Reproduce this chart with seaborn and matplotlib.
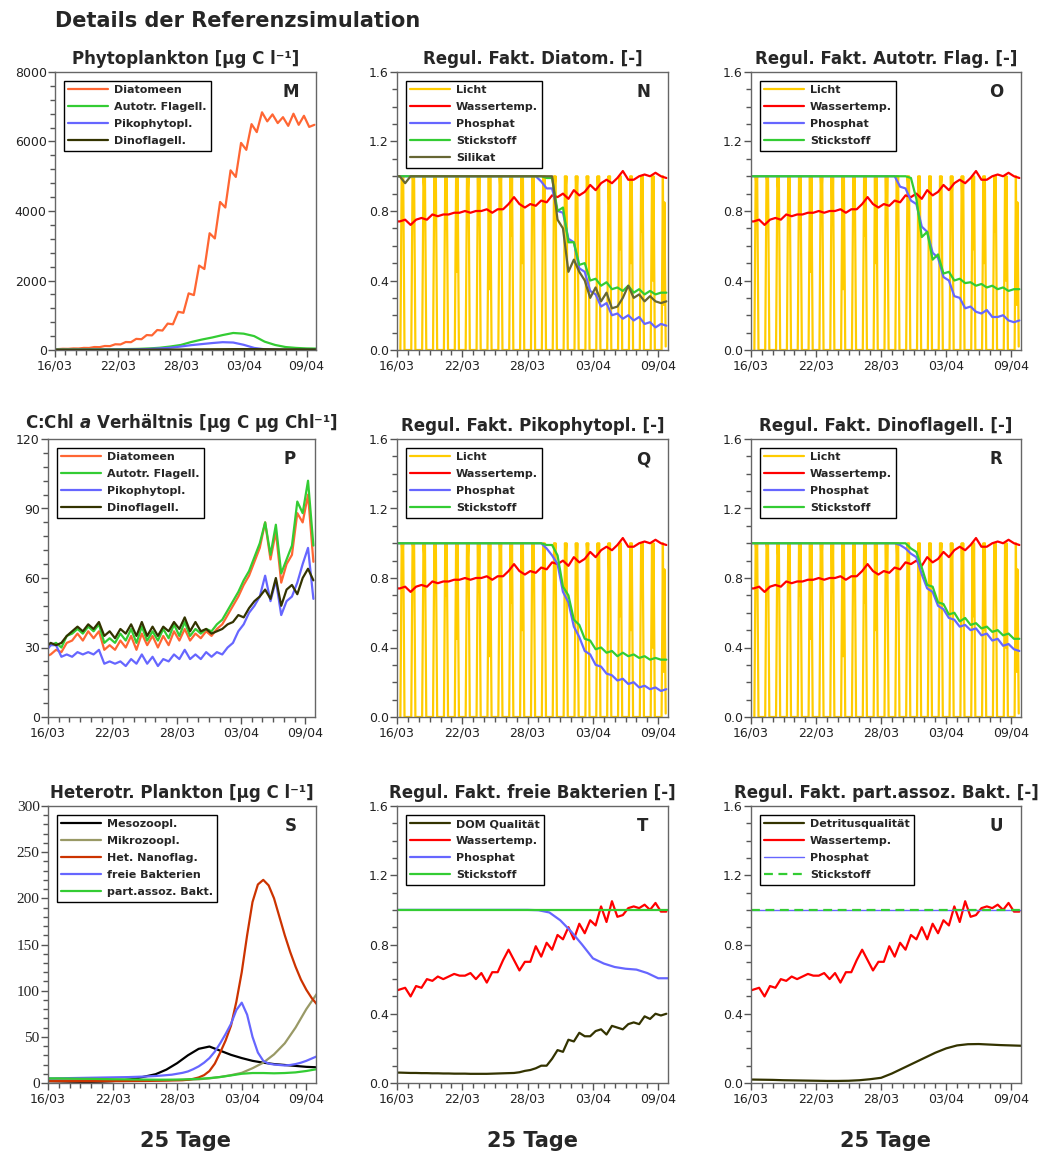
import numpy as np
import matplotlib
matplotlib.use("Agg")
import matplotlib.pyplot as plt
import seaborn as sns
from matplotlib.ticker import MultipleLocator, FormatStrFormatter

sns.set_theme(style="ticks")
plt.rcParams["font.family"] = ["DejaVu Sans"]
plt.rcParams["mathtext.fontset"] = "dejavusans"

# ---------------------------------------------------------------- time axes
TAGE = np.arange(26)                   # daily values, day 0 = 16/03
HALB = np.arange(51) * 0.5 - 0.25      # half-daily values (diurnal series)
HALB_S = np.arange(51) * 0.5           # half-daily values (heterotrophs)
KONST_T = [0, 25]
DATUM = ["16/03", "22/03", "28/03", "03/04", "09/04"]
DATUM_POS = [0, 6, 12, 18, 24]

# light factor: within each day dawn, first maximum, noon, second maximum, dusk
LICHT_PHASE = [0.31, 0.43, 0.50, 0.57, 0.69]
LICHT_T = np.array([d + p for d in range(25) for p in LICHT_PHASE])
LICHT = [
    0, 1, 0.95, 1, 0,
    0, 1, 0.97, 1, 0,
    0, 1, 0.93, 1, 0,
    0, 1, 0.85, 1, 0,
    0, 1, 0.70, 1, 0,
    0, 1, 0.45, 1, 0,
    0, 1, 0.90, 1, 0,
    0, 1, 0.72, 1, 0,
    0, 1, 0.35, 1, 0,
    0, 1, 0.92, 1, 0,
    0, 1, 0.66, 1, 0,
    0, 1, 0.50, 1, 0,
    0, 1, 0.75, 1, 0,
    0, 1, 0.90, 1, 0,
    0, 1, 0.95, 1, 0,
    0, 1, 0.93, 1, 0,
    0, 1, 0.90, 1, 0,
    0, 1, 0.95, 1, 0,
    0, 1, 0.85, 1, 0,
    0, 1, 0.80, 1, 0,
    0, 1, 0.58, 1, 0,
    0, 1, 0.50, 1, 0,
    0, 1, 0.68, 1, 0,
    0, 1, 0.40, 1, 0,
    0, 1, 0.26, 0.85, 0.02,
]

# ---------------------------------------------------------------- M: phytoplankton biomass
M_DIATOMEEN = [25,
               25, 35, 33, 45, 43, 60, 58, 85, 82, 115,
               112, 165, 160, 230, 225, 320, 310, 430, 420, 575,
               560, 760, 740, 1100, 1070, 1630, 1580, 2430, 2330, 3360,
               3210, 4260, 4100, 5170, 4980, 5960, 5760, 6500, 6270, 6840,
               6580, 6780, 6530, 6700, 6450, 6800, 6480, 6740, 6420, 6480]
M_AUTOFLAG = [15, 15, 16, 17, 18, 20, 22, 27, 33, 45, 65, 100, 145, 230, 300,
              360, 430, 490, 470, 400, 240, 145, 85, 60, 45, 40]
M_PIKO = [5, 5, 6, 7, 8, 10, 12, 15, 20, 30, 45, 65, 100, 140, 170, 200, 225,
          215, 150, 60, 20, 10, 6, 5, 5, 5]
M_DINO = [5, 5, 5, 5, 6, 6, 7, 8, 9, 10, 11, 12, 14, 16, 18, 20, 22, 24, 25,
          24, 22, 20, 18, 16, 15, 14]

# ---------------------------------------------------------------- water temperature factors
WT_PHYTO = [0.74, 0.74, 0.75, 0.72, 0.75, 0.76, 0.75, 0.78, 0.77, 0.78,
            0.78, 0.79, 0.79, 0.80, 0.79, 0.80, 0.80, 0.81, 0.79, 0.81,
            0.81, 0.84, 0.88, 0.84, 0.82, 0.84, 0.83, 0.86, 0.85, 0.89,
            0.88, 0.90, 0.87, 0.92, 0.89, 0.91, 0.95, 0.92, 0.96, 0.98,
            0.96, 0.99, 1.03, 0.98, 0.98, 1.00, 1.01, 1.00, 1.02, 1.00, 0.99]
WT_BAKT = [0.53, 0.54, 0.55, 0.50, 0.56, 0.55, 0.60, 0.59, 0.615, 0.60,
           0.615, 0.63, 0.62, 0.62, 0.635, 0.60, 0.635, 0.58, 0.64, 0.64,
           0.71, 0.77, 0.71, 0.65, 0.70, 0.70, 0.79, 0.73, 0.81, 0.77,
           0.855, 0.83, 0.90, 0.83, 0.92, 0.865, 0.94, 0.91, 1.02, 0.93,
           1.05, 0.96, 0.97, 1.01, 1.02, 1.01, 1.03, 1.00, 1.04, 0.99, 0.99]

# ---------------------------------------------------------------- N: diatoms
N_PHOSPHAT = [1.0, 1.0, 1.0, 1.0, 1.0, 1.0, 1.0, 1.0, 1.0, 1.0,
              1.0, 1.0, 1.0, 1.0, 1.0, 1.0, 1.0, 1.0, 1.0, 1.0,
              1.0, 1.0, 1.0, 1.0, 1.0, 1.0, 1.0, 0.97, 0.93, 0.93,
              0.80, 0.79, 0.64, 0.62, 0.47, 0.45, 0.34, 0.32, 0.25, 0.27,
              0.20, 0.21, 0.18, 0.20, 0.17, 0.19, 0.15, 0.16, 0.13, 0.15, 0.14]
N_STICKSTOFF = [1.0, 1.0, 1.0, 1.0, 1.0, 1.0, 1.0, 1.0, 1.0, 1.0,
                1.0, 1.0, 1.0, 1.0, 1.0, 1.0, 1.0, 1.0, 1.0, 1.0,
                1.0, 1.0, 1.0, 1.0, 1.0, 1.0, 1.0, 1.0, 0.99, 0.99,
                0.80, 0.82, 0.62, 0.62, 0.49, 0.50, 0.40, 0.41, 0.37, 0.39,
                0.35, 0.36, 0.34, 0.37, 0.33, 0.35, 0.32, 0.34, 0.32, 0.33, 0.33]
N_SILIKAT = [1.0, 1.0, 0.96, 1.0, 1.0, 1.0, 1.0, 1.0, 1.0, 1.0,
             1.0, 1.0, 1.0, 1.0, 1.0, 1.0, 1.0, 1.0, 1.0, 1.0,
             1.0, 1.0, 1.0, 1.0, 1.0, 1.0, 1.0, 1.0, 1.0, 1.0,
             0.75, 0.70, 0.45, 0.52, 0.45, 0.40, 0.30, 0.36, 0.28, 0.33,
             0.24, 0.25, 0.30, 0.37, 0.30, 0.32, 0.28, 0.31, 0.28, 0.27, 0.28]

# ---------------------------------------------------------------- O: autotrophic flagellates
O_PHOSPHAT = [1.0, 1.0, 1.0, 1.0, 1.0, 1.0, 1.0, 1.0, 1.0, 1.0,
              1.0, 1.0, 1.0, 1.0, 1.0, 1.0, 1.0, 1.0, 1.0, 1.0,
              1.0, 1.0, 1.0, 1.0, 1.0, 1.0, 1.0, 1.0, 0.94, 0.93,
              0.86, 0.84, 0.71, 0.68, 0.56, 0.53, 0.42, 0.40, 0.31, 0.30,
              0.24, 0.25, 0.22, 0.21, 0.23, 0.19, 0.19, 0.20, 0.17, 0.16, 0.17]
O_STICKSTOFF = [1.0, 1.0, 1.0, 1.0, 1.0, 1.0, 1.0, 1.0, 1.0, 1.0,
                1.0, 1.0, 1.0, 1.0, 1.0, 1.0, 1.0, 1.0, 1.0, 1.0,
                1.0, 1.0, 1.0, 1.0, 1.0, 1.0, 1.0, 1.0, 1.0, 1.0,
                0.99, 0.87, 0.65, 0.68, 0.52, 0.55, 0.44, 0.45, 0.40, 0.41,
                0.385, 0.39, 0.37, 0.38, 0.36, 0.37, 0.35, 0.36, 0.34, 0.35, 0.35]

# ---------------------------------------------------------------- P: C:Chl a ratio
P_DIATOMEEN = [26, 27, 29, 28, 32, 33, 36, 33, 37, 34,
               37, 29, 31, 29, 33, 30, 35, 29, 36, 31,
               35, 30, 35, 31, 37, 33, 38, 33, 36, 34,
               37, 35, 38, 40, 44, 48, 52, 57, 61, 67,
               73, 84, 68, 80, 58, 66, 70, 88, 84, 96, 67]
P_AUTOFLAG = [30, 31, 32, 30, 35, 36, 38, 36, 39, 37,
              40, 32, 34, 32, 36, 33, 38, 32, 39, 33,
              37, 33, 38, 34, 40, 35, 41, 35, 38, 36,
              38, 37, 40, 42, 46, 50, 54, 59, 63, 69,
              75, 84, 70, 83, 62, 68, 74, 93, 88, 102, 74]
P_PIKO = [28, 31, 31, 26, 27, 26, 28, 27, 28, 27,
          29, 23, 24, 23, 24, 22, 25, 23, 27, 23,
          26, 22, 25, 24, 27, 25, 29, 25, 27, 25,
          28, 26, 28, 27, 30, 32, 37, 40, 45, 48,
          52, 61, 50, 59, 44, 50, 52, 58, 66, 73, 51]
P_DINO = [30, 32, 31, 32, 35, 37, 39, 37, 40, 38,
          41, 35, 37, 34, 38, 36, 40, 35, 41, 35,
          39, 35, 39, 37, 41, 38, 43, 37, 41, 37,
          38, 36, 37, 38, 40, 41, 44, 43, 47, 50,
          52, 55, 51, 60, 48, 55, 57, 53, 60, 64, 59]

# ---------------------------------------------------------------- Q: picophytoplankton
Q_PHOSPHAT = [1.0, 1.0, 1.0, 1.0, 1.0, 1.0, 1.0, 1.0, 1.0, 1.0,
              1.0, 1.0, 1.0, 1.0, 1.0, 1.0, 1.0, 1.0, 1.0, 1.0,
              1.0, 1.0, 1.0, 1.0, 1.0, 1.0, 1.0, 1.0, 0.97, 0.93,
              0.88, 0.72, 0.66, 0.52, 0.46, 0.38, 0.36, 0.30, 0.29, 0.25,
              0.24, 0.21, 0.22, 0.19, 0.20, 0.17, 0.18, 0.16, 0.17, 0.15, 0.16]
Q_STICKSTOFF = [1.0, 1.0, 1.0, 1.0, 1.0, 1.0, 1.0, 1.0, 1.0, 1.0,
                1.0, 1.0, 1.0, 1.0, 1.0, 1.0, 1.0, 1.0, 1.0, 1.0,
                1.0, 1.0, 1.0, 1.0, 1.0, 1.0, 1.0, 1.0, 0.99, 0.99,
                0.93, 0.75, 0.70, 0.56, 0.53, 0.45, 0.44, 0.39, 0.40, 0.37,
                0.38, 0.35, 0.37, 0.35, 0.36, 0.34, 0.35, 0.33, 0.34, 0.33, 0.33]

# ---------------------------------------------------------------- R: dinoflagellates
R_PHOSPHAT = [1.0, 1.0, 1.0, 1.0, 1.0, 1.0, 1.0, 1.0, 1.0, 1.0,
              1.0, 1.0, 1.0, 1.0, 1.0, 1.0, 1.0, 1.0, 1.0, 1.0,
              1.0, 1.0, 1.0, 1.0, 1.0, 1.0, 1.0, 1.0, 0.99, 0.97,
              0.94, 0.92, 0.82, 0.74, 0.72, 0.64, 0.62, 0.57, 0.56, 0.52,
              0.53, 0.50, 0.51, 0.47, 0.48, 0.44, 0.45, 0.41, 0.42, 0.39, 0.38]
R_STICKSTOFF = [1.0, 1.0, 1.0, 1.0, 1.0, 1.0, 1.0, 1.0, 1.0, 1.0,
                1.0, 1.0, 1.0, 1.0, 1.0, 1.0, 1.0, 1.0, 1.0, 1.0,
                1.0, 1.0, 1.0, 1.0, 1.0, 1.0, 1.0, 1.0, 1.0, 1.0,
                0.97, 0.95, 0.86, 0.76, 0.75, 0.66, 0.65, 0.59, 0.60, 0.55,
                0.57, 0.53, 0.54, 0.51, 0.52, 0.49, 0.50, 0.47, 0.48, 0.45, 0.45]

# ---------------------------------------------------------------- S: heterotrophic plankton
S_MESO = [2, 1.8, 1.5, 1.3, 1.3, 1.5, 2, 3, 4.5, 7, 9.5, 14.5, 21.5, 30, 37,
          39.5, 35, 30.5, 27, 24, 22, 20.5, 19.5, 18.5, 17.5, 17]
S_MIKRO = [3.5, 3.4, 3.3, 3.2, 3.1, 3.0, 2.9, 2.8, 2.8, 2.8, 2.9, 3.0, 3.2,
           3.5, 4, 5, 6.5, 8.5, 11, 16, 22, 31, 43, 60, 80, 97]
S_NANO = [2.0, 2.0, 2.0, 2.0, 2.0, 2.0, 2.0, 2.0, 2.0, 2.0,
          2.0, 2.0, 2.0, 2.0, 2.0, 2.1, 2.1, 2.2, 2.2, 2.3,
          2.4, 2.5, 2.6, 2.8, 2.9, 3.0, 3.5, 4.5, 6, 8.5,
          13, 21, 33, 46, 62, 88, 120, 160, 196, 215,
          220, 214, 200, 180, 160, 142, 126, 112, 101, 92, 85]
S_BAKT = [5.0, 5.0, 5.1, 5.2, 5.3, 5.4, 5.5, 5.6, 5.7, 5.8,
          5.9, 6.0, 6.1, 6.2, 6.3, 6.4, 6.6, 6.8, 7.0, 7.3,
          7.6, 8.0, 8.5, 9.0, 10, 11, 12.5, 15, 18, 22,
          27, 34, 43, 53, 64, 79, 87, 74, 50, 33,
          24, 21, 20, 19.5, 19, 19.5, 20.5, 22, 24, 26.5, 29]
S_PARTBAKT = [5, 5, 4.8, 4.6, 4.5, 4.3, 4.1, 4.0, 3.8, 3.7, 3.6, 3.6, 3.7,
              4.0, 4.5, 5.3, 6.5, 8.2, 10, 10.8, 10.8, 10.5, 10.8, 11.5, 13, 15]

# ---------------------------------------------------------------- T / U: bacteria
T_DOM = [0.060, 0.060, 0.059, 0.058, 0.058, 0.057, 0.057, 0.056, 0.056, 0.055,
         0.055, 0.054, 0.054, 0.054, 0.053, 0.053, 0.053, 0.053, 0.054, 0.055,
         0.056, 0.057, 0.058, 0.062, 0.070, 0.075, 0.085, 0.100, 0.100, 0.140,
         0.190, 0.180, 0.250, 0.240, 0.290, 0.270, 0.270, 0.300, 0.310, 0.280,
         0.330, 0.320, 0.310, 0.340, 0.350, 0.340, 0.385, 0.370, 0.400, 0.390, 0.400]
T_PHOSPHAT = [1.0, 1.0, 1.0, 1.0, 1.0, 1.0, 1.0, 1.0, 1.0, 1.0, 1.0, 1.0, 1.0,
              0.998, 0.985, 0.94, 0.875, 0.80, 0.72, 0.69, 0.67, 0.66, 0.655,
              0.635, 0.605, 0.605]
KONST_EINS = [1.0, 1.0]
U_DETRITUS = [0.020, 0.019, 0.018, 0.016, 0.015, 0.014, 0.013, 0.012, 0.012,
              0.013, 0.016, 0.022, 0.030, 0.055, 0.085, 0.115, 0.145, 0.175,
              0.200, 0.217, 0.224, 0.225, 0.222, 0.219, 0.217, 0.215]

# ---------------------------------------------------------------- colours
GELB = "#ffcc00"
ROT = "#ff0000"
BLAU = "#6666ff"
GRUEN = "#33cc33"
ORANGE = "#ff6633"
DUNKEL = "#333300"
OLIV = "#666633"
KHAKI = "#999966"
ROSTROT = "#cc3300"

# ---------------------------------------------------------------- layout
W, H = 1041, 1153
fig = plt.figure(figsize=(W / 100, H / 100), dpi=100)


def achse(x0, y0, x1, y1):
    return fig.add_axes([x0 / W, 1 - y1 / H, (x1 - x0) / W, (y1 - y0) / H])


def linie(ax, t, y, farbe, name, lw=1.6, **kw):
    sns.lineplot(x=np.asarray(t, float), y=np.asarray(y, float), ax=ax,
                 color=farbe, linewidth=lw, estimator=None, sort=False,
                 legend=False, **kw)
    ln = ax.get_lines()[-1]
    ln.set_label(name)
    return ln


def gestalten(ax, titel, buchstabe, ymax, major, minor, fmt, handles,
              serif_y=False, titel_pad=6):
    ax.set_xlim(0, 24.9)
    ax.set_ylim(0, ymax)
    ax.set_xticks(DATUM_POS)
    ax.set_xticklabels(DATUM)
    ax.xaxis.set_minor_locator(MultipleLocator(1))
    ax.yaxis.set_major_locator(MultipleLocator(major))
    ax.yaxis.set_minor_locator(MultipleLocator(minor))
    ax.yaxis.set_major_formatter(FormatStrFormatter(fmt))
    ax.tick_params(which="both", direction="out", color="#555555", width=1,
                   left=True, bottom=True, labelsize=9, labelcolor="#222222")
    ax.tick_params(axis="y", which="both", pad=1)
    ax.tick_params(axis="x", which="both", pad=2)
    ax.tick_params(which="major", length=5)
    ax.tick_params(which="minor", length=3.5)
    if serif_y:
        for lab in ax.get_yticklabels():
            lab.set_fontfamily("Liberation Serif")
            lab.set_fontsize(11)
    for s in ax.spines.values():
        s.set_color("#666666")
        s.set_linewidth(1)
    ax.set_xlabel("")
    ax.set_ylabel("")
    ax.set_title(titel, fontsize=12, fontweight="bold", pad=titel_pad)
    leg = ax.legend(handles=handles, loc="upper left", bbox_to_anchor=(0, 1),
                    borderaxespad=0.8, prop={"weight": "bold", "size": 8},
                    frameon=True, fancybox=False, edgecolor="black",
                    framealpha=1, handlelength=3.6, handletextpad=0.5,
                    labelspacing=0.63, borderpad=0.4)
    leg.get_frame().set_linewidth(1)
    ax.annotate(buchstabe, xy=(1, 1), xycoords="axes fraction",
                xytext=(-18, -14.5), textcoords="offset points",
                ha="center", va="center", fontsize=12, fontweight="bold")


def faktoren_phyto(ax, phos, stick, extra=None):
    hs = [linie(ax, LICHT_T, LICHT, GELB, "Licht", lw=1.6),
          linie(ax, HALB, WT_PHYTO, ROT, "Wassertemp."),
          linie(ax, HALB, phos, BLAU, "Phosphat"),
          linie(ax, HALB, stick, GRUEN, "Stickstoff")]
    if extra is not None:
        hs.append(linie(ax, HALB, extra, OLIV, "Silikat"))
    return hs


SPALTEN = [(55, 316), (397, 668), (751, 1021)]

# row 1 ---------------------------------------------------------------
ax = achse(55, 72, 316, 350)
hs = [linie(ax, HALB, M_DIATOMEEN, ORANGE, "Diatomeen"),
      linie(ax, TAGE, M_AUTOFLAG, GRUEN, "Autotr. Flagell."),
      linie(ax, TAGE, M_PIKO, BLAU, "Pikophytopl."),
      linie(ax, TAGE, M_DINO, DUNKEL, "Dinoflagell.")]
gestalten(ax, "Phytoplankton [µg C l⁻¹]", "M", 8000, 2000, 400, "%d", hs)

ax = achse(397, 72, 668, 350)
hs = faktoren_phyto(ax, N_PHOSPHAT, N_STICKSTOFF, N_SILIKAT)
gestalten(ax, "Regul. Fakt. Diatom. [-]", "N", 1.6, 0.4, 0.1, "%.1f", hs)

ax = achse(751, 72, 1021, 350)
hs = faktoren_phyto(ax, O_PHOSPHAT, O_STICKSTOFF)
gestalten(ax, "Regul. Fakt. Autotr. Flag. [-]", "O", 1.6, 0.4, 0.1, "%.1f", hs)

# row 2 ---------------------------------------------------------------
ax = achse(48, 439, 315, 717)
hs = [linie(ax, HALB, P_DIATOMEEN, ORANGE, "Diatomeen"),
      linie(ax, HALB, P_AUTOFLAG, GRUEN, "Autotr. Flagell."),
      linie(ax, HALB, P_PIKO, BLAU, "Pikophytopl."),
      linie(ax, HALB, P_DINO, DUNKEL, "Dinoflagell.")]
gestalten(ax, r"C:Chl $\mathbfit{a}$ Verhältnis [µg C µg Chl⁻¹]", "P",
          120, 30, 6, "%d", hs, titel_pad=8)

ax = achse(397, 439, 668, 717)
hs = faktoren_phyto(ax, Q_PHOSPHAT, Q_STICKSTOFF)
gestalten(ax, "Regul. Fakt. Pikophytopl. [-]", "Q", 1.6, 0.4, 0.1, "%.1f", hs)

ax = achse(751, 439, 1021, 717)
hs = faktoren_phyto(ax, R_PHOSPHAT, R_STICKSTOFF)
gestalten(ax, "Regul. Fakt. Dinoflagell. [-]", "R", 1.6, 0.4, 0.1, "%.1f", hs)

# row 3 ---------------------------------------------------------------
ax = achse(48, 806, 316, 1083)
hs = [linie(ax, TAGE, S_MESO, "black", "Mesozoopl."),
      linie(ax, TAGE, S_MIKRO, KHAKI, "Mikrozoopl."),
      linie(ax, HALB_S, S_NANO, ROSTROT, "Het. Nanoflag."),
      linie(ax, HALB_S, S_BAKT, BLAU, "freie Bakterien"),
      linie(ax, TAGE, S_PARTBAKT, GRUEN, "part.assoz. Bakt.")]
gestalten(ax, "Heterotr. Plankton [µg C l⁻¹]", "S", 300, 50, 10, "%d", hs,
          serif_y=True)

ax = achse(397, 806, 668, 1083)
hs = [linie(ax, HALB, T_DOM, DUNKEL, "DOM Qualität"),
      linie(ax, HALB, WT_BAKT, ROT, "Wassertemp."),
      linie(ax, TAGE, T_PHOSPHAT, BLAU, "Phosphat"),
      linie(ax, KONST_T, KONST_EINS, GRUEN, "Stickstoff")]
gestalten(ax, "Regul. Fakt. freie Bakterien [-]", "T", 1.6, 0.4, 0.1, "%.1f", hs)

ax = achse(751, 806, 1021, 1083)
hs = [linie(ax, TAGE, U_DETRITUS, DUNKEL, "Detritusqualität"),
      linie(ax, HALB, WT_BAKT, ROT, "Wassertemp."),
      linie(ax, KONST_T, KONST_EINS, BLAU, "Phosphat", lw=1.0),
      linie(ax, KONST_T, KONST_EINS, GRUEN, "Stickstoff", dashes=(4, 2.5))]
gestalten(ax, "Regul. Fakt. part.assoz. Bakt. [-]", "U", 1.6, 0.4, 0.1,
          "%.1f", hs)

# figure texts --------------------------------------------------------
fig.text(55 / W, 1 - 27 / H, "Details der Referenzsimulation",
         fontsize=15, fontweight="bold", va="baseline", ha="left")
for x0, x1 in SPALTEN:
    fig.text((x0 + x1) / 2 / W, 1 - 1147 / H, "25 Tage", fontsize=15,
             fontweight="bold", ha="center", va="baseline")

fig.savefig("out.png", dpi=100, facecolor="white")
